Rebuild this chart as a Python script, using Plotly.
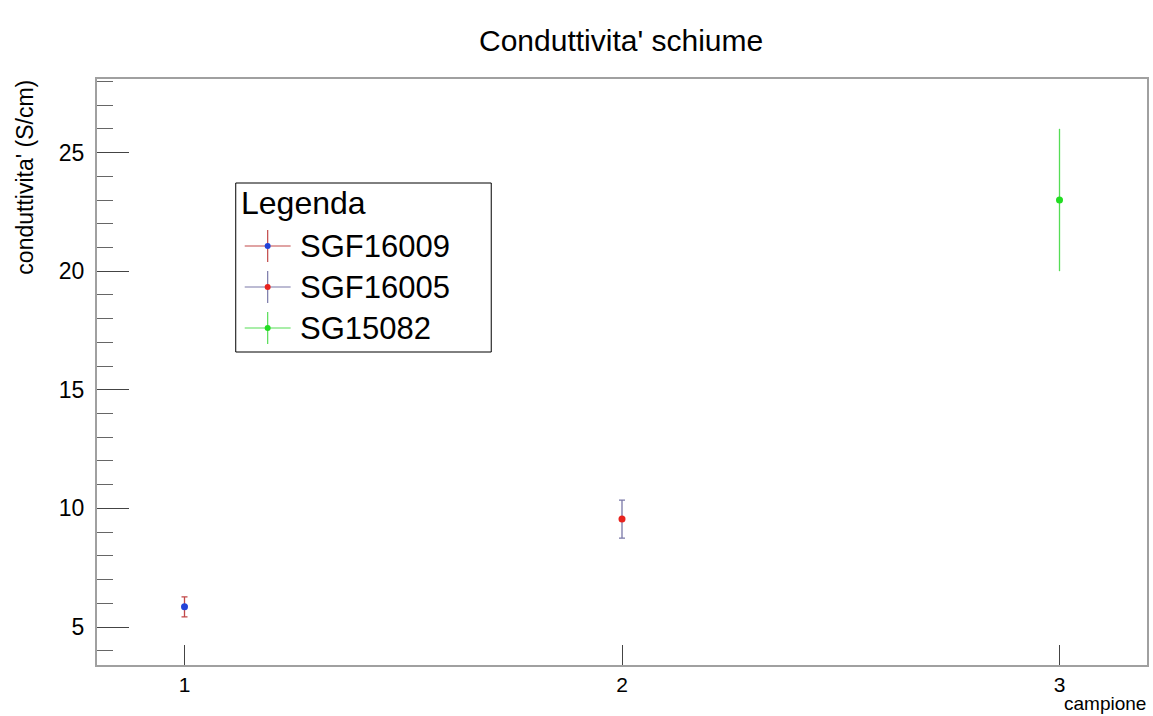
import plotly.graph_objects as go

# ---- data ----
series_names = ["SGF16009", "SGF16005", "SG15082"]
campione = [1, 2, 3]
conduttivita = [5.85, 9.55, 23.0]
errore = [0.42, 0.8, 3.0]
marker_colors = ["#2343d8", "#e8231e", "#22dd22"]
bar_colors = ["#c24848", "#7a78a8", "#55dd55"]
cap_widths = [3, 3, 0]
x_ticks = [1, 2, 3]
y_ticks = [5, 10, 15, 20, 25]

W, H = 1153, 716
L, R, T, B = 97, 1149, 79, 665   # plot area pixel box

def px(xp):
    return (xp - L) / (R - L)

def py(yp):
    return (B - yp) / (B - T)

fig = go.Figure()
for i, name in enumerate(series_names):
    fig.add_trace(go.Scatter(
        x=[campione[i]], y=[conduttivita[i]], mode="markers", name=name,
        marker=dict(color=marker_colors[i], size=7),
        error_y=dict(type="data", array=[errore[i]], color=bar_colors[i],
                     thickness=1.3, width=cap_widths[i]),
        showlegend=False,
    ))

font = "Liberation Sans, Arial, Helvetica, sans-serif"

shapes = []
annotations = []

# custom legend box (ROOT style)
lx0, lx1, ly0, ly1 = 236, 492, 183, 352
shapes.append(dict(type="rect", xref="paper", yref="paper",
                   x0=px(lx0), x1=px(lx1), y0=py(ly1), y1=py(ly0),
                   line=dict(color="black", width=1), fillcolor="white", layer="above"))
annotations.append(dict(text="Legenda", xref="paper", yref="paper",
                        x=px(239), y=py(203), xanchor="left", yanchor="middle",
                        showarrow=False, font=dict(family=font, size=32, color="black")))
entry_y = [246, 287, 328]
cx, half_w, half_h = 268, 23, 16
for i, name in enumerate(series_names):
    yy = entry_y[i]
    shapes.append(dict(type="line", xref="paper", yref="paper",
                       x0=px(cx - half_w), x1=px(cx + half_w), y0=py(yy), y1=py(yy),
                       line=dict(color=bar_colors[i], width=1.2), layer="above"))
    shapes.append(dict(type="line", xref="paper", yref="paper",
                       x0=px(cx), x1=px(cx), y0=py(yy - half_h), y1=py(yy + half_h),
                       line=dict(color=bar_colors[i], width=1.2), layer="above"))
    shapes.append(dict(type="circle", xref="paper", yref="paper",
                       x0=px(cx - 3), x1=px(cx + 3), y0=py(yy + 3), y1=py(yy - 3),
                       line=dict(color=marker_colors[i], width=0),
                       fillcolor=marker_colors[i], layer="above"))
    annotations.append(dict(text=name, xref="paper", yref="paper",
                            x=px(298), y=py(yy), xanchor="left", yanchor="middle",
                            showarrow=False, font=dict(family=font, size=31, color="black")))

# title, axis titles
annotations.append(dict(text="Conduttivita' schiume", xref="paper", yref="paper",
                        x=px(622), y=py(40), xanchor="center", yanchor="middle",
                        showarrow=False, font=dict(family=font, size=30, color="black")))
annotations.append(dict(text="conduttivita' (S/cm)", xref="paper", yref="paper",
                        x=px(24), y=py(78), xanchor="center", yanchor="top",
                        textangle=-90, showarrow=False,
                        font=dict(family=font, size=23, color="black")))
annotations.append(dict(text="campione", xref="paper", yref="paper",
                        x=px(1150), y=py(716), xanchor="right", yanchor="bottom",
                        showarrow=False, font=dict(family=font, size=19, color="black")))

fig.update_layout(
    width=W, height=H,
    margin=dict(l=L, r=W - R, t=T, b=H - B),
    paper_bgcolor="white", plot_bgcolor="white",
    shapes=shapes, annotations=annotations,
    showlegend=False,
    font=dict(family=font, color="black"),
)
fig.update_xaxes(
    range=[0.8, 3.2], tickvals=x_ticks, ticktext=[str(v) for v in x_ticks],
    ticks="inside", ticklen=20, tickcolor="#444", tickwidth=1,
    showline=True, linecolor="#a0a0a0", linewidth=2, mirror=True,
    showgrid=False, zeroline=False, tickfont=dict(size=21, family=font),
    ticklabelstandoff=0,
)
fig.update_yaxes(
    range=[3.4, 28.1], tickvals=y_ticks, ticktext=[str(v) for v in y_ticks],
    ticks="inside", ticklen=32, tickcolor="#444", tickwidth=1,
    minor=dict(ticks="inside", ticklen=16, dtick=1, tick0=0, tickcolor="#666", showgrid=False),
    showline=True, linecolor="#a0a0a0", linewidth=2, mirror=True,
    showgrid=False, zeroline=False, tickfont=dict(size=23, family=font),
    ticklabelstandoff=6,
)

fig.write_html("out.html")
